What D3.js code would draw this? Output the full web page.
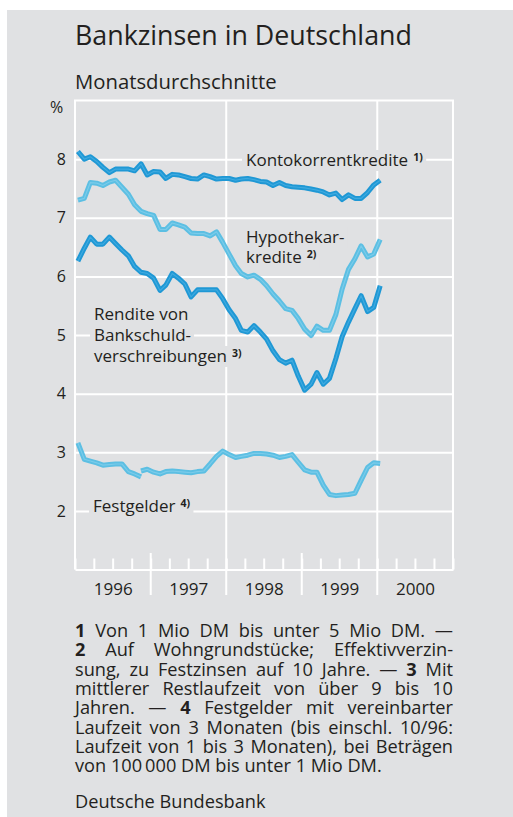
<!DOCTYPE html>
<html>
<head>
<meta charset="utf-8">
<script src="https://cdn.jsdelivr.net/npm/d3@7"></script>
<style>
  body { margin: 0; background: #fff; }
  text { font-family: "Open Sans", sans-serif; fill: #231f20; }
</style>
</head>
<body>
<script>
// Bankzinsen in Deutschland, Monatsdurchschnitte Jan 1996 - Jan 2000

// months, Jan 1996 .. Jan 2000 (plotted mid-month)
var months = d3.timeMonth.range(new Date(1996, 0, 1), new Date(2000, 1, 1))
                .map(function (d) { return new Date(d.getFullYear(), d.getMonth(), 15); });

var kontokorrent = [8.13, 8.00, 8.04, 7.96, 7.86, 7.77, 7.83, 7.83, 7.83, 7.80, 7.92, 7.73,
                    7.79, 7.78, 7.67, 7.74, 7.73, 7.70, 7.67, 7.66, 7.73, 7.70, 7.66, 7.67,
                    7.67, 7.64, 7.66, 7.67, 7.65, 7.62, 7.61, 7.55, 7.60, 7.55, 7.53, 7.52,
                    7.51, 7.49, 7.47, 7.44, 7.39, 7.42, 7.31, 7.39, 7.33, 7.33, 7.43, 7.56,
                    7.64];

var hypothekar = [7.30, 7.33, 7.60, 7.59, 7.55, 7.61, 7.64, 7.52, 7.40, 7.22, 7.11, 7.07,
                  7.04, 6.80, 6.80, 6.91, 6.88, 6.84, 6.74, 6.73, 6.73, 6.69, 6.76, 6.58,
                  6.38, 6.18, 6.05, 5.99, 6.02, 5.95, 5.84, 5.70, 5.58, 5.45, 5.42, 5.28,
                  5.10, 4.99, 5.15, 5.08, 5.08, 5.35, 5.78, 6.12, 6.30, 6.52, 6.33, 6.38,
                  6.63];

var rendite = [6.26, 6.48, 6.67, 6.55, 6.55, 6.67, 6.56, 6.45, 6.35, 6.17, 6.07, 6.05,
               5.97, 5.76, 5.85, 6.05, 5.97, 5.87, 5.65, 5.77, 5.77, 5.77, 5.77, 5.62,
               5.43, 5.28, 5.08, 5.05, 5.16, 5.05, 4.93, 4.73, 4.58, 4.52, 4.57, 4.30,
               4.06, 4.16, 4.36, 4.16, 4.26, 4.60, 4.97, 5.22, 5.45, 5.67, 5.40, 5.47,
               5.84];

// Festgelder: old definition up to 10/96 (months 0..10), new from month 10
var festgelderAlt = [3.16, 2.88, 2.85, 2.82, 2.78, 2.79, 2.80, 2.80, 2.67, 2.63, 2.58];
var festgelderNeuStart = 10;
var festgelderNeu = [2.68, 2.71, 2.66, 2.63, 2.67, 2.68, 2.67, 2.66, 2.65, 2.67, 2.68, 2.80,
                     2.93, 3.02, 2.96, 2.91, 2.93, 2.95, 2.98, 2.98, 2.97, 2.95, 2.91, 2.93,
                     2.96, 2.83, 2.70, 2.66, 2.66, 2.44, 2.28, 2.26, 2.27, 2.28, 2.30, 2.52,
                     2.74, 2.82, 2.81];

var yTicks = [2, 3, 4, 5, 6, 7, 8];
var yearLabels = ["1996", "1997", "1998", "1999", "2000"];

var footnotes = [
    { text: "**1 Von 1 Mio DM bis unter 5 Mio DM. —", justify: true },
    { text: "**2 Auf Wohngrundstücke; Effektivverzin-", justify: true },
    { text: "sung, zu Festzinsen auf 10 Jahre. — **3 Mit", justify: true },
    { text: "mittlerer Restlaufzeit von über 9 bis 10", justify: true },
    { text: "Jahren. — **4 Festgelder mit vereinbarter", justify: true },
    { text: "Laufzeit von 3 Monaten (bis einschl. 10/96:", justify: true },
    { text: "Laufzeit von 1 bis 3 Monaten), bei Beträgen", justify: true },
    { text: "von 100\u2009000 DM bis unter 1 Mio DM.", justify: false }
];

var w = 513;
var h = 817;
var bg = "#e0e1e3";
var dark = "#1f98d5";
var light = "#5cbfe3";

var svg = d3.select("body").append("svg")
            .attr("width", w)
            .attr("height", h);

svg.append("rect")
    .attr("x", 7).attr("y", 10)
    .attr("width", w - 7).attr("height", h - 10)
    .attr("fill", bg);

// title
svg.append("text")
    .attr("x", 75).attr("y", 45)
    .attr("font-size", 26.8)
    .text("Bankzinsen in Deutschland");

svg.append("text")
    .attr("x", 75).attr("y", 89)
    .attr("font-size", 20.3)
    .text("Monatsdurchschnitte");

svg.append("text")
    .attr("x", 50).attr("y", 113)
    .attr("font-size", 16)
    .text("%");

var xScale = d3.scaleTime()
               .domain([new Date(1996, 0, 1), new Date(2001, 0, 1)])
               .range([75, 453]);

var yScale = d3.scaleLinear()
               .domain([1, 9])
               .range([569.5, 100.5]);

// horizontal grid + y labels
var yAxis = d3.axisLeft(yScale)
              .tickValues(yTicks)
              .tickSize(-378)
              .tickPadding(9)
              .tickFormat(d3.format("d"));

var gy = svg.append("g")
            .attr("transform", "translate(75,0)")
            .call(yAxis);
gy.select(".domain").remove();
gy.selectAll("line").attr("stroke", "#fff").attr("stroke-width", 2);
gy.selectAll("text").attr("font-size", 16).attr("fill", "#231f20")
  .attr("font-family", "Open Sans, sans-serif");

// frame: top, left, right
svg.append("line")
    .attr("x1", 74).attr("x2", 454)
    .attr("y1", yScale(9)).attr("y2", yScale(9))
    .attr("stroke", "#fff").attr("stroke-width", 2);
svg.selectAll(".frame")
    .data([xScale.range()[0], xScale.range()[1]])
    .enter().append("line")
    .attr("x1", function (d) { return d; })
    .attr("x2", function (d) { return d; })
    .attr("y1", yScale(9)).attr("y2", yScale(1))
    .attr("stroke", "#fff").attr("stroke-width", 2);

// vertical grid lines 1998 and 2000, and long year ticks
var years = [1997, 1998, 1999, 2000];
svg.selectAll(".yeartick")
    .data(years)
    .enter().append("line")
    .attr("x1", function (d) { return xScale(new Date(d, 0, 1)); })
    .attr("x2", function (d) { return xScale(new Date(d, 0, 1)); })
    .attr("y1", function (d) { return d % 2 === 0 ? yScale(9) : 553; })
    .attr("y2", 595)
    .attr("stroke", "#fff").attr("stroke-width", 2);

// quarter ticks along bottom
var qAxis = d3.axisBottom(xScale)
              .ticks(d3.timeMonth.every(3))
              .tickSize(-11)
              .tickSizeOuter(0)
              .tickFormat("");
var gq = svg.append("g")
            .attr("transform", "translate(0," + yScale(1) + ")")
            .call(qAxis);
gq.select(".domain").attr("stroke", "#fff").attr("stroke-width", 2);
gq.selectAll("line").attr("stroke", "#fff").attr("stroke-width", 2);

// year labels
var yearAxis = d3.axisBottom(xScale)
                 .tickValues(yearLabels.map(function (d) { return new Date(+d, 6, 1); }))
                 .tickSize(0)
                 .tickPadding(0)
                 .tickFormat(function (d, i) { return yearLabels[i]; });
var gx = svg.append("g")
            .attr("transform", "translate(0,582)")
            .call(yearAxis);
gx.select(".domain").remove();
gx.selectAll("text").attr("font-size", 17).attr("fill", "#231f20")
  .attr("font-family", "Open Sans, sans-serif").attr("dy", "0.75em");

// series labels with background boxes that cut the grid
function addLabel(lines, x0, y0, lh, sup) {
    var g = svg.append("g");
    lines.forEach(function (ln, i) {
        var t = g.append("text")
                 .attr("x", x0).attr("y", y0 + i * lh)
                 .attr("font-size", 17)
                 .text(ln);
        if (sup && i === lines.length - 1) {
            t.append("tspan")
             .attr("font-size", 10.5)
             .attr("font-weight", 700)
             .attr("dx", 5).attr("dy", -5)
             .text(sup);
        }
        var bb = t.node().getBBox();
        g.insert("rect", "text")
         .attr("x", bb.x - 4).attr("y", bb.y + 2)
         .attr("width", bb.width + 7).attr("height", bb.height - 2)
         .attr("fill", bg);
    });
}

addLabel(["Kontokorrentkredite"], 246, 166, 20, "1)");
addLabel(["Hypothekar-", "kredite"], 246, 243, 20, "2)");
addLabel(["Rendite von", "Bankschuld-", "verschreibungen"], 94, 320, 21, "3)");
addLabel(["Festgelder"], 93, 512, 20, "4)");

// series lines
var line = d3.line()
             .x(function (d) { return xScale(months[d.i]); })
             .y(function (d) { return yScale(d.v); });

function toPts(arr, start) {
    return arr.map(function (v, k) { return { i: start + k, v: v }; });
}

var series = [
    { data: toPts(festgelderAlt, 0), color: light, hi: "#8fd3ee" },
    { data: toPts(festgelderNeu, festgelderNeuStart), color: light, hi: "#8fd3ee" },
    { data: toPts(hypothekar, 0), color: light, hi: "#8fd3ee" },
    { data: toPts(rendite, 0), color: dark, hi: "#55b5e6" },
    { data: toPts(kontokorrent, 0), color: dark, hi: "#55b5e6" }
];

series.forEach(function (s) {
    svg.append("path")
        .attr("d", line(s.data))
        .attr("fill", "none")
        .attr("stroke", s.color)
        .attr("stroke-width", 5)
        .attr("stroke-linejoin", "round");
    svg.append("path")
        .attr("d", line(s.data))
        .attr("fill", "none")
        .attr("stroke", s.hi)
        .attr("stroke-width", 1.2)
        .attr("stroke-linejoin", "round")
        .attr("opacity", 0.6);
});

// footnotes, justified with word-spacing
var fnWidth = 378;
var fnSize = 18.2;
footnotes.forEach(function (ln, li) {
    var t = svg.append("text")
               .attr("x", 75)
               .attr("y", 637 + li * 19.3)
               .attr("font-size", fnSize);
    var words = ln.text.split(" ");
    words.forEach(function (wd, k) {
        var bold = wd.indexOf("**") === 0;
        t.append("tspan")
         .attr("font-weight", bold ? 700 : null)
         .text((bold ? wd.slice(2) : wd) + (k < words.length - 1 ? " " : ""));
    });
    if (ln.justify) {
        var natural = t.node().getComputedTextLength();
        t.attr("word-spacing", (fnWidth - natural) / (words.length - 1));
    }
});

svg.append("text")
    .attr("x", 75).attr("y", 808)
    .attr("font-size", fnSize)
    .text("Deutsche Bundesbank");
</script>
</body>
</html>
